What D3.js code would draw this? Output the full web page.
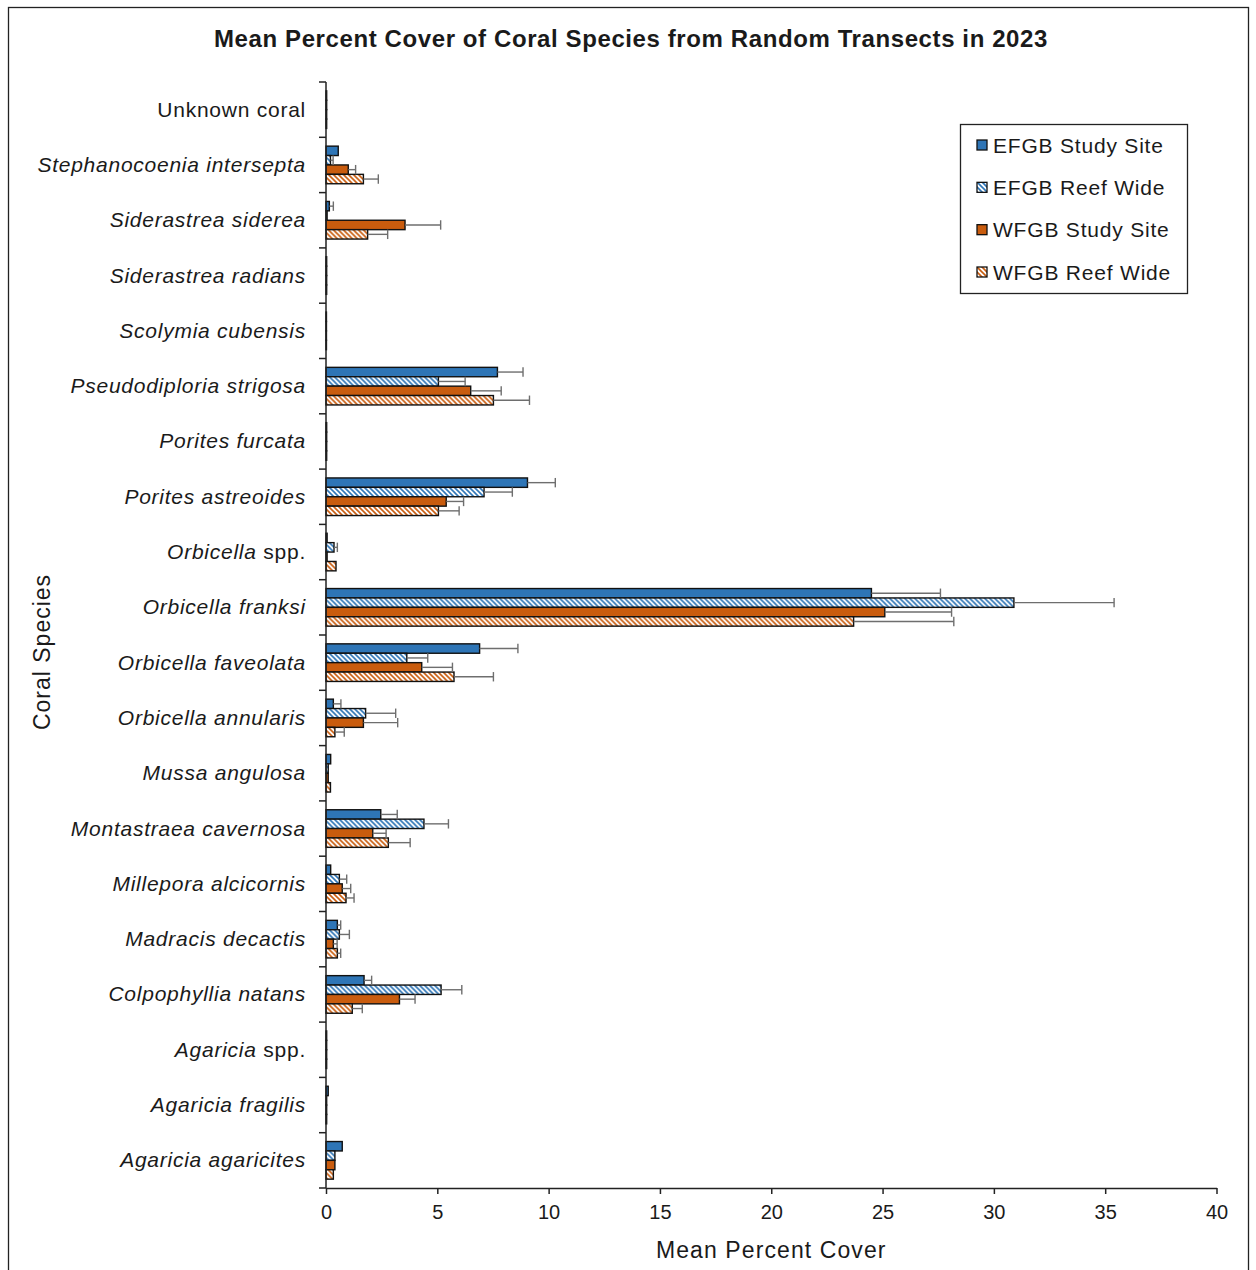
<!DOCTYPE html>
<html>
<head>
<meta charset="utf-8">
<script src="https://cdn.jsdelivr.net/npm/d3@7"></script>
<style>
  html, body { margin: 0; padding: 0; background: #fff; }
  svg { display: block; }
  text { font-family: "Liberation Sans", Arial, sans-serif; fill: #1a1a1a; }
</style>
</head>
<body>
<svg id="chart" width="1256" height="1270"></svg>
<script>
// Species, listed top to bottom as drawn
const species = [
  "Unknown coral", "Stephanocoenia intersepta", "Siderastrea siderea", "Siderastrea radians",
  "Scolymia cubensis", "Pseudodiploria strigosa", "Porites furcata", "Porites astreoides",
  "Orbicella spp.", "Orbicella franksi", "Orbicella faveolata", "Orbicella annularis",
  "Mussa angulosa", "Montastraea cavernosa", "Millepora alcicornis", "Madracis decactis",
  "Colpophyllia natans", "Agaricia spp.", "Agaricia fragilis", "Agaricia agaricites"
];

const seriesNames = ["EFGB Study Site", "EFGB Reef Wide", "WFGB Study Site", "WFGB Reef Wide"];

// Mean percent cover and the plus-side error for each series
const efgbStudy    = [0.03, 0.55, 0.15, 0.03, 0.02, 7.7, 0.03, 9.05, 0.05, 24.5, 6.9, 0.33, 0.21, 2.46, 0.21, 0.51, 1.71, 0.03, 0.1, 0.73];
const efgbStudyErr = [0, 0, 0.18, 0, 0, 1.15, 0, 1.25, 0, 3.1, 1.72, 0.34, 0, 0.74, 0, 0.15, 0.34, 0, 0, 0];
const efgbReef     = [0.03, 0.2, 0.05, 0.03, 0.02, 5.05, 0.03, 7.1, 0.36, 30.9, 3.63, 1.78, 0.1, 4.4, 0.6, 0.6, 5.17, 0.03, 0.03, 0.4];
const efgbReefErr  = [0, 0.12, 0, 0, 0, 1.2, 0, 1.27, 0.15, 4.5, 0.94, 1.35, 0, 1.1, 0.33, 0.45, 0.93, 0, 0, 0];
const wfgbStudy    = [0.03, 1.0, 3.55, 0.03, 0.02, 6.5, 0.03, 5.4, 0.05, 25.1, 4.3, 1.68, 0.1, 2.1, 0.73, 0.33, 3.3, 0.03, 0.03, 0.4];
const wfgbStudyErr = [0, 0.33, 1.6, 0, 0, 1.37, 0, 0.78, 0, 3.0, 1.38, 1.54, 0, 0.6, 0.38, 0.17, 0.7, 0, 0, 0];
const wfgbReef     = [0.03, 1.68, 1.87, 0.03, 0.02, 7.52, 0.03, 5.05, 0.45, 23.7, 5.75, 0.4, 0.2, 2.8, 0.9, 0.51, 1.18, 0.03, 0.03, 0.33];
const wfgbReefErr  = [0, 0.67, 0.9, 0, 0, 1.62, 0, 0.93, 0, 4.5, 1.77, 0.42, 0, 0.98, 0.36, 0.15, 0.45, 0, 0, 0];

const xTicks = [0, 5, 10, 15, 20, 25, 30, 35, 40];

const values = [efgbStudy, efgbReef, wfgbStudy, wfgbReef];
const errors = [efgbStudyErr, efgbReefErr, wfgbStudyErr, wfgbReefErr];

const BLUE = "#2E75B6";
const ORANGE = "#C95C0E";
const fills = ["url(#solidBlue)", "url(#hatchBlue)", "url(#solidOrange)", "url(#hatchOrange)"];

const svg = d3.select("#chart");

// fill patterns: solid and downward-diagonal hatch
const defs = svg.append("defs");
function solid(id, color) {
  const p = defs.append("pattern").attr("id", id).attr("patternUnits", "userSpaceOnUse")
    .attr("width", 6).attr("height", 6);
  p.append("rect").attr("width", 6).attr("height", 6).attr("fill", color);
}
function hatch(id, color) {
  const p = defs.append("pattern").attr("id", id).attr("patternUnits", "userSpaceOnUse")
    .attr("width", 5).attr("height", 5);
  p.append("rect").attr("width", 5).attr("height", 5).attr("fill", "#fff");
  p.append("path").attr("d", "M-1,-1 L6,6 M-1,4 L1,6 M4,-1 L6,1")
    .attr("stroke", color).attr("stroke-width", 1.6);
}
solid("solidBlue", BLUE);
hatch("hatchBlue", BLUE);
solid("solidOrange", ORANGE);
hatch("hatchOrange", ORANGE);

// outer frame
svg.append("rect").attr("x", 8.5).attr("y", 7.5).attr("width", 1240).attr("height", 1275)
  .attr("fill", "none").attr("stroke", "#222").attr("stroke-width", 1.3);

// title
svg.append("text").attr("x", 631).attr("y", 47).attr("text-anchor", "middle")
  .style("font-weight", "bold").style("font-size", "24px").style("letter-spacing", "0.6px")
  .text("Mean Percent Cover of Coral Species from Random Transects in 2023");

const plot = { left: 326, right: 1216.5, top: 82, bottom: 1188 };

const x = d3.scaleLinear().domain([0, 40]).range([plot.left, plot.right]);
const y = d3.scaleBand().domain(species).range([plot.top, plot.bottom])
  .paddingInner(0.32).paddingOuter(0.16);
const ySub = d3.scaleBand().domain(d3.range(4)).range([0, y.bandwidth()]);

// bars
const groups = svg.append("g").selectAll("g").data(species).join("g")
  .attr("transform", d => `translate(0,${y(d)})`);

groups.each(function (name, i) {
  const g = d3.select(this);
  for (let s = 0; s < 4; s++) {
    const v = values[s][i];
    g.append("rect")
      .attr("x", x(0))
      .attr("y", ySub(s))
      .attr("width", Math.max(0, x(v) - x(0)))
      .attr("height", ySub.bandwidth())
      .attr("fill", fills[s])
      .attr("stroke", "#111")
      .attr("stroke-width", 1.4);
  }
  // plus-side error bars
  for (let s = 0; s < 4; s++) {
    const v = values[s][i], e = errors[s][i];
    if (!e) continue;
    const cy = ySub(s) + ySub.bandwidth() / 2;
    const h = ySub.bandwidth() / 2;
    g.append("line").attr("x1", x(v)).attr("x2", x(v + e)).attr("y1", cy).attr("y2", cy)
      .attr("stroke", "#6e6e6e").attr("stroke-width", 1.4);
    g.append("line").attr("x1", x(v + e)).attr("x2", x(v + e)).attr("y1", cy - h).attr("y2", cy + h)
      .attr("stroke", "#6e6e6e").attr("stroke-width", 1.4);
  }
});

// x axis
const xAxis = svg.append("g").attr("transform", `translate(0,${plot.bottom})`)
  .call(d3.axisBottom(x).tickValues(xTicks).tickSize(6).tickSizeOuter(0).tickPadding(11));
xAxis.select(".domain").attr("stroke", "#222").attr("stroke-width", 1.5);
xAxis.selectAll(".tick line").attr("stroke", "#222").attr("stroke-width", 1.5);
xAxis.selectAll(".tick text").style("font-size", "20px").attr("fill", "#1a1a1a")
  .style("font-family", "'Liberation Sans', Arial, sans-serif");

// y axis: line plus ticks on category boundaries
const yAxis = svg.append("g");
yAxis.append("line").attr("x1", plot.left).attr("x2", plot.left)
  .attr("y1", plot.top).attr("y2", plot.bottom).attr("stroke", "#222").attr("stroke-width", 1.5);
const step = y.step();
yAxis.selectAll("line.tick").data(d3.range(species.length + 1)).join("line")
  .attr("class", "tick")
  .attr("x1", plot.left - 7).attr("x2", plot.left)
  .attr("y1", k => plot.top + k * step).attr("y2", k => plot.top + k * step)
  .attr("stroke", "#222").attr("stroke-width", 1.5);

// category labels (genus/species in italics)
const labels = svg.append("g").selectAll("text").data(species).join("text")
  .attr("x", plot.left - 20)
  .attr("y", d => y(d) + y.bandwidth() / 2 + 7)
  .attr("text-anchor", "end")
  .style("font-size", "21px")
  .style("letter-spacing", "0.75px");
labels.each(function (d) {
  const t = d3.select(this);
  if (d === "Unknown coral") {
    t.append("tspan").text(d);
  } else if (d.endsWith(" spp.")) {
    t.append("tspan").style("font-style", "italic").text(d.replace(" spp.", ""));
    t.append("tspan").text(" spp.");
  } else {
    t.append("tspan").style("font-style", "italic").text(d);
  }
});

// axis titles
svg.append("text").attr("x", (plot.left + plot.right) / 2).attr("y", 1258)
  .attr("text-anchor", "middle").style("font-size", "23px").style("letter-spacing", "1.1px")
  .text("Mean Percent Cover");
svg.append("text").attr("transform", "translate(50,652) rotate(-90)")
  .attr("text-anchor", "middle").style("font-size", "23px").style("letter-spacing", "1px")
  .text("Coral Species");

// legend
const legend = svg.append("g");
legend.append("rect").attr("x", 960.5).attr("y", 124.5).attr("width", 227).attr("height", 169)
  .attr("fill", "#fff").attr("stroke", "#222").attr("stroke-width", 1.3);
const legendY = d3.scalePoint().domain(d3.range(4)).range([145, 272]);
seriesNames.forEach((name, s) => {
  const cy = legendY(s);
  legend.append("rect").attr("x", 977).attr("y", cy - 5).attr("width", 10).attr("height", 10)
    .attr("fill", fills[s]).attr("stroke", "#111").attr("stroke-width", 1.3);
  legend.append("text").attr("x", 993).attr("y", cy + 7.5).style("font-size", "21px")
    .style("letter-spacing", "0.8px").text(name);
});
</script>
</body>
</html>
